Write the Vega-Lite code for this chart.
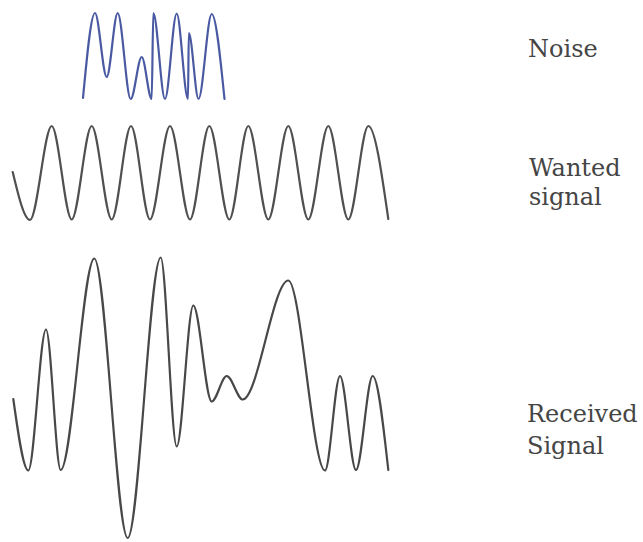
{
  "$schema": "https://vega.github.io/schema/vega-lite/v6.json",
  "width": 643,
  "height": 542,
  "autosize": {"type": "fit", "contains": "padding"},
  "padding": 0,
  "background": "white",
  "config": {"view": {"stroke": null}},
  "datasets": {
    "waves": [
      {"series": "noise", "i": 0, "x": 83, "y": 98},
      {"series": "noise", "i": 1, "x": 95, "y": 13},
      {"series": "noise", "i": 2, "x": 106.7, "y": 77},
      {"series": "noise", "i": 3, "x": 117.7, "y": 13},
      {"series": "noise", "i": 4, "x": 130.7, "y": 99},
      {"series": "noise", "i": 5, "x": 141.7, "y": 57},
      {"series": "noise", "i": 6, "x": 151.7, "y": 99},
      {"series": "noise", "i": 7, "x": 153.3, "y": 13},
      {"series": "noise", "i": 8, "x": 165, "y": 99},
      {"series": "noise", "i": 9, "x": 176.7, "y": 13.5},
      {"series": "noise", "i": 10, "x": 188, "y": 99},
      {"series": "noise", "i": 11, "x": 188.8, "y": 33},
      {"series": "noise", "i": 12, "x": 198.5, "y": 99},
      {"series": "noise", "i": 13, "x": 211.7, "y": 14},
      {"series": "noise", "i": 14, "x": 224.5, "y": 99},

      {"series": "wanted", "i": 0, "x": 12.7, "y": 172},
      {"series": "wanted", "i": 1, "x": 30, "y": 220},
      {"series": "wanted", "i": 2, "x": 51.7, "y": 126},
      {"series": "wanted", "i": 3, "x": 71.7, "y": 219.5},
      {"series": "wanted", "i": 4, "x": 91.7, "y": 126},
      {"series": "wanted", "i": 5, "x": 111.7, "y": 219.5},
      {"series": "wanted", "i": 6, "x": 131, "y": 126},
      {"series": "wanted", "i": 7, "x": 150, "y": 219.5},
      {"series": "wanted", "i": 8, "x": 170, "y": 126},
      {"series": "wanted", "i": 9, "x": 190, "y": 219.5},
      {"series": "wanted", "i": 10, "x": 209.3, "y": 126},
      {"series": "wanted", "i": 11, "x": 229.3, "y": 219.5},
      {"series": "wanted", "i": 12, "x": 248.3, "y": 126},
      {"series": "wanted", "i": 13, "x": 268.3, "y": 219.5},
      {"series": "wanted", "i": 14, "x": 288.3, "y": 126},
      {"series": "wanted", "i": 15, "x": 308.3, "y": 219.5},
      {"series": "wanted", "i": 16, "x": 328.3, "y": 126},
      {"series": "wanted", "i": 17, "x": 348.3, "y": 219.5},
      {"series": "wanted", "i": 18, "x": 368.3, "y": 126},
      {"series": "wanted", "i": 19, "x": 388.3, "y": 219},

      {"series": "received", "i": 0, "x": 13.3, "y": 399},
      {"series": "received", "i": 1, "x": 28.3, "y": 470.5},
      {"series": "received", "i": 2, "x": 46, "y": 329.5},
      {"series": "received", "i": 3, "x": 60.7, "y": 470},
      {"series": "received", "i": 4, "x": 94.3, "y": 258.5},
      {"series": "received", "i": 5, "x": 127.7, "y": 538},
      {"series": "received", "i": 6, "x": 160.7, "y": 257.5},
      {"series": "received", "i": 7, "x": 176.7, "y": 446.5},
      {"series": "received", "i": 8, "x": 193.3, "y": 305.5},
      {"series": "received", "i": 9, "x": 211.7, "y": 401.5},
      {"series": "received", "i": 10, "x": 226.7, "y": 376},
      {"series": "received", "i": 11, "x": 242.7, "y": 399.5},
      {"series": "received", "i": 12, "x": 288.3, "y": 280.5},
      {"series": "received", "i": 13, "x": 325, "y": 470.5},
      {"series": "received", "i": 14, "x": 340, "y": 376},
      {"series": "received", "i": 15, "x": 356, "y": 470},
      {"series": "received", "i": 16, "x": 372.7, "y": 376},
      {"series": "received", "i": 17, "x": 388.3, "y": 470}
    ],
    "labels": [
      {"text": "Noise", "x": 528, "y": 57},
      {"text": "Wanted", "x": 529, "y": 176},
      {"text": "signal", "x": 529, "y": 205},
      {"text": "Received", "x": 527, "y": 421.5},
      {"text": "Signal", "x": 527, "y": 454}
    ]
  },
  "layer": [
    {
      "data": {"name": "waves"},
      "mark": {"type": "line", "interpolate": "monotone", "strokeWidth": 2.2, "strokeCap": "round", "strokeJoin": "round"},
      "encoding": {
        "x": {"field": "x", "type": "quantitative", "scale": {"domain": [0, 643], "nice": false, "zero": false}, "axis": null},
        "y": {"field": "y", "type": "quantitative", "scale": {"domain": [0, 542], "nice": false, "zero": false, "reverse": true}, "axis": null},
        "order": {"field": "i", "type": "quantitative"},
        "detail": {"field": "series"},
        "color": {"field": "series", "type": "nominal", "scale": {"domain": ["noise", "wanted", "received"], "range": ["#4a5aa2", "#505050", "#484848"]}, "legend": null}
      }
    },
    {
      "data": {"name": "labels"},
      "mark": {"type": "text", "font": "DejaVu Serif", "fontSize": 24, "align": "left", "baseline": "alphabetic", "color": "#454545"},
      "encoding": {
        "x": {"field": "x", "type": "quantitative", "scale": {"domain": [0, 643], "nice": false, "zero": false}, "axis": null},
        "y": {"field": "y", "type": "quantitative", "scale": {"domain": [0, 542], "nice": false, "zero": false, "reverse": true}, "axis": null},
        "text": {"field": "text"}
      }
    }
  ]
}
